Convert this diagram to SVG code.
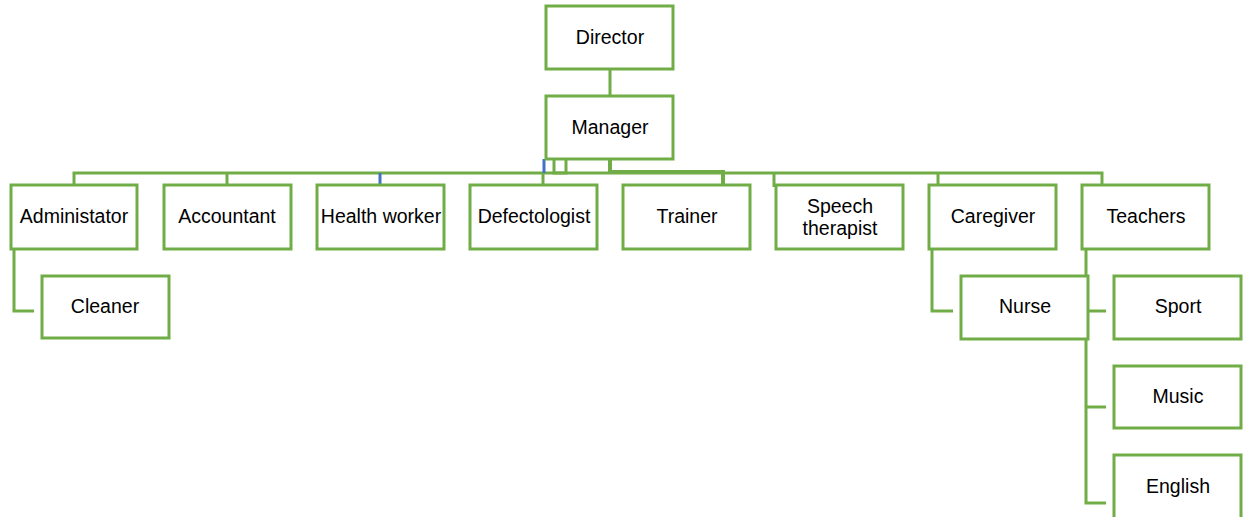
<svg xmlns="http://www.w3.org/2000/svg" width="1243" height="517" viewBox="0 0 1243 517">
<style>
.box{fill:#fff;stroke:#70AD47;stroke-width:3}
.ln{fill:none;stroke:#70AD47;stroke-width:3}
.bl{fill:none;stroke:#4472C4;stroke-width:3}
text{font-family:"Liberation Sans",Arial,sans-serif;font-size:19.5px;fill:#000;text-anchor:middle}
</style>
<rect width="1243" height="517" fill="#fff"/>
<g id="connectors">
<path class="ln" d="M610 69V96"/>
<path class="ln" d="M74 185V173H1102V185"/>
<path class="ln" d="M227 173V185M543 173V187M774 173V187M938 173V185"/>
<path class="bl" d="M544 159V173M380 173V186"/>
<path class="ln" d="M554 159V173H566V159"/>
<path class="ln" d="M610 159V172H723V184" style="stroke-width:4"/>
<path class="ln" d="M14 249V311H34"/>
<path class="ln" d="M932 249V311H953"/>
<path class="ln" d="M1086 249V503H1106M1086 311H1106M1086 407H1106"/>
</g>
<g id="director"><rect class="box" x="546" y="6" width="127" height="63"/><text x="610" y="44">Director</text></g>
<g id="manager"><rect class="box" x="546" y="96" width="127" height="63"/><text x="610" y="134">Manager</text></g>
<g id="administator"><rect class="box" x="11" y="185" width="126" height="64"/><text x="74" y="223">Administator</text></g>
<g id="accountant"><rect class="box" x="164" y="185" width="127" height="64"/><text x="227" y="223">Accountant</text></g>
<g id="health-worker"><rect class="box" x="317" y="185" width="127" height="64"/><text x="381" y="223">Health worker</text></g>
<g id="defectologist"><rect class="box" x="470" y="185" width="127" height="64"/><text x="534" y="223">Defectologist</text></g>
<g id="trainer"><rect class="box" x="623" y="185" width="127" height="64"/><text x="687" y="223">Trainer</text></g>
<g id="speech-therapist"><rect class="box" x="776" y="185" width="127" height="64"/><text x="840" y="213">Speech</text><text x="840" y="235">therapist</text></g>
<g id="caregiver"><rect class="box" x="929" y="185" width="127" height="64"/><text x="993" y="223">Caregiver</text></g>
<g id="teachers"><rect class="box" x="1082" y="185" width="127" height="64"/><text x="1146" y="223">Teachers</text></g>
<g id="cleaner"><rect class="box" x="42" y="276" width="127" height="62"/><text x="105" y="313">Cleaner</text></g>
<g id="nurse"><rect class="box" x="961" y="276" width="127" height="63"/><text x="1025" y="313">Nurse</text></g>
<g id="sport"><rect class="box" x="1114" y="276" width="127" height="63"/><text x="1178" y="313">Sport</text></g>
<g id="music"><rect class="box" x="1114" y="366" width="127" height="62"/><text x="1178" y="403">Music</text></g>
<g id="english"><rect class="box" x="1114" y="455" width="127" height="70"/><text x="1178" y="493">English</text></g>
</svg>
